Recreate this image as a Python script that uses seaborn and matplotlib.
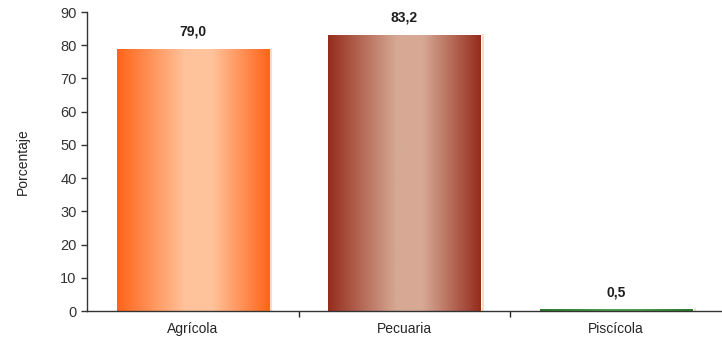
import numpy as np
import pandas as pd
import seaborn as sns
import matplotlib.pyplot as plt
from matplotlib.colors import LinearSegmentedColormap

categorias = ['Agrícola', 'Pecuaria', 'Piscícola']
porcentajes = [79.0, 83.2, 0.5]
etiquetas = ['79,0', '83,2', '0,5']
# edge colour, centre colour for each bar gradient
bordes = ['#ff6418', '#952c1c', '#2a7a2a']
centros = ['#ffc39c', '#d6a994', '#4fa04f']

sns.set_style('white')
plt.rcParams['font.family'] = ['Liberation Sans', 'DejaVu Sans']

df = pd.DataFrame({'cat': categorias, 'pct': porcentajes})

fig = plt.figure(figsize=(7.22, 3.43), dpi=100)
ax = fig.add_axes([0.1205, 0.093, 0.879, 0.872])

sns.barplot(data=df, x='cat', y='pct', hue='cat', palette=bordes, width=0.72,
            legend=False, ax=ax, edgecolor='none', saturation=1)

# smooth horizontal gradient fill clipped to each bar
for patch, c_edge, c_mid in zip(ax.patches, bordes, centros):
    x0, y0 = patch.get_x(), patch.get_y()
    w, h = patch.get_width(), patch.get_height()
    cmap = LinearSegmentedColormap.from_list(
        'g', [(0, c_edge), (0.45, c_mid), (0.62, c_mid), (1, c_edge)])
    grad = np.linspace(0, 1, 256).reshape(1, -1)
    im = ax.imshow(grad, cmap=cmap, aspect='auto', extent=[x0, x0 + w, y0, y0 + h],
                   zorder=patch.get_zorder() + 0.1, interpolation='bilinear')
    im.set_clip_path(patch)
    # thin light side to fake the 3d look
    ax.plot([x0 + w + 0.012, x0 + w + 0.012], [y0, y0 + h], color='#ffdcc4', lw=1.5,
            zorder=patch.get_zorder() + 0.2)

for i, (v, t) in enumerate(zip(porcentajes, etiquetas)):
    ax.text(i, v + 3, t, ha='center', va='bottom', fontsize=10, fontweight='bold',
            color='#1e1e1e')

ax.set_xlim(-0.5, 2.5)
ax.set_ylim(0, 90)
ax.set_yticks(range(0, 91, 10))
ax.set_xticks([0.5, 1.5], minor=True)
ax.tick_params(axis='x', which='major', length=0, pad=8, labelsize=10)
ax.tick_params(axis='x', which='minor', length=4, width=1, direction='out', bottom=True)
ax.tick_params(axis='y', length=4, width=1, direction='out', left=True, labelsize=10.5,
               colors='#333333')
ax.set_xlabel('')
ax.set_ylabel('Porcentaje', fontsize=10, labelpad=22)
for s in ['top', 'right']:
    ax.spines[s].set_visible(False)
for s in ['left', 'bottom']:
    ax.spines[s].set_color('#333333')
    ax.spines[s].set_linewidth(1)

fig.savefig('out.png', dpi=100)
